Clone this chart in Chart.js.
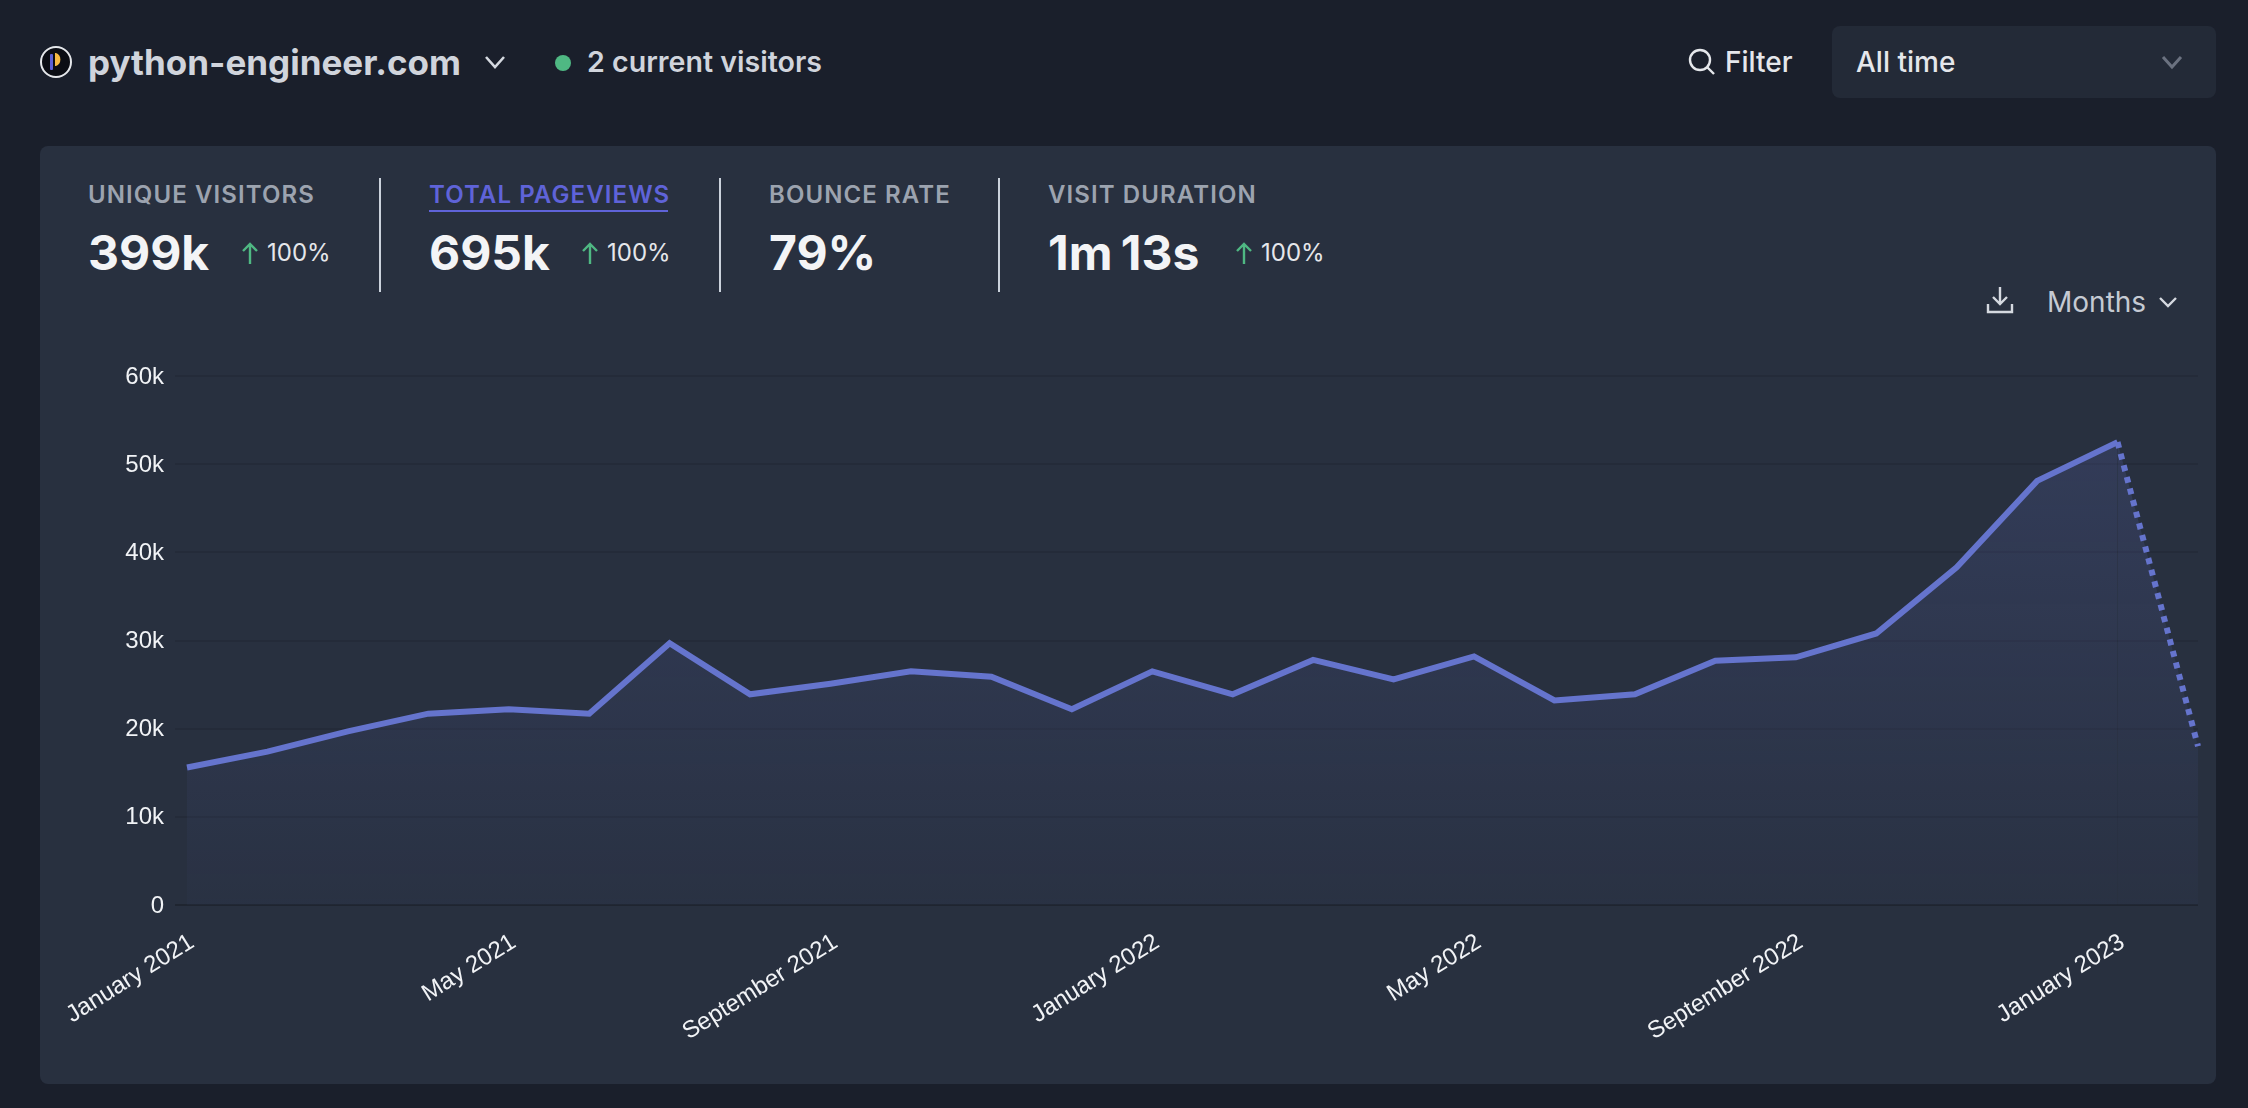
<!DOCTYPE html>
<html>
<head>
<meta charset="utf-8">
<script src="https://cdn.jsdelivr.net/npm/chart.js@4/dist/chart.umd.min.js"></script>
<style>
  html, body { margin: 0; padding: 0; width: 2248px; height: 1108px; overflow: hidden; background: #1a1f2b; font-family: Inter, sans-serif; }
  .abs { position: absolute; white-space: nowrap; line-height: 1; }
  .mid { transform: translateY(-50%); }
  #card { position: absolute; left: 40px; top: 146px; width: 2176px; height: 938px; background: #28303f; border-radius: 8px; }
  #chartWrap { position: absolute; left: 40px; top: 146px; width: 2176px; height: 938px; }
  #range { position: absolute; left: 1832px; top: 26px; width: 384px; height: 72px; background: #232a37; border-radius: 8px; }
  .label { font-size: 24px; font-weight: 600; letter-spacing: 1.1px; color: #9ca3af; top: 195px; }
  .value { font-size: 48px; font-weight: 700; color: #f3f4f6; top: 253px; word-spacing: -3px; }
  .delta { font-size: 24px; color: #e5e7eb; top: 253px; }
  .divider { position: absolute; top: 178px; width: 2px; height: 114px; background: #cbd2dc; }
  svg { position: absolute; overflow: visible; }
</style>
</head>
<body>
<div id="card"></div>
<div id="range"></div>

<svg style="left:40px;top:46px" width="32" height="32" viewBox="0 0 32 32">
  <circle cx="16" cy="16" r="15" fill="#0b0d14" stroke="#e5e7eb" stroke-width="2"/>
  <rect x="10" y="8" width="3" height="16" rx="1" fill="#5a5fd6"/>
  <path d="M15 7h1a7 7 0 0 1 0 13h-1z" fill="#f5b942"/>
</svg>
<div class="abs mid" style="left:88px;top:62px;font-size:35px;font-weight:700;color:#d0d4dc">python-engineer.com</div>
<svg style="left:485px;top:55px" width="20" height="14" viewBox="0 0 20 14"><path d="M1 2l9 10 9-10" fill="none" stroke="#d5d9e0" stroke-width="2.6"/></svg>
<svg style="left:555px;top:55px" width="16" height="16"><circle cx="8" cy="8" r="8" fill="#4fb883"/></svg>
<div class="abs mid" style="left:587px;top:62px;font-size:28.6px;font-weight:600;color:#d0d4dc">2 current visitors</div>

<svg style="left:1688px;top:48px" width="28" height="28" viewBox="0 0 28 28"><circle cx="12" cy="12" r="10" fill="none" stroke="#e5e7eb" stroke-width="2.4"/><path d="M19 19l7 7" stroke="#e5e7eb" stroke-width="2.4"/></svg>
<div class="abs mid" style="left:1725px;top:62px;font-size:28px;font-weight:500;color:#e5e7eb">Filter</div>
<div class="abs mid" style="left:1856px;top:62px;font-size:28px;font-weight:500;color:#e5e7eb">All time</div>
<svg style="left:2162px;top:55px" width="20" height="14" viewBox="0 0 20 14"><path d="M1 2l9 10 9-10" fill="none" stroke="#6b7280" stroke-width="3"/></svg>

<div class="abs mid label" style="left:88px">UNIQUE VISITORS</div>
<div class="abs mid value" style="left:88px">399k</div>
<svg style="left:242px;top:242px" width="16" height="22" viewBox="0 0 16 22"><path d="M8 22V2M1 9l7-7 7 7" fill="none" stroke="#4fb883" stroke-width="2.4"/></svg>
<div class="abs mid delta" style="left:267px">100%</div>
<div class="divider" style="left:379px"></div>

<div class="abs mid label" style="left:429px;color:#5f63d8">TOTAL PAGEVIEWS</div>
<div class="abs" style="left:429px;top:210px;width:239px;height:2px;background:#5f63d8"></div>
<div class="abs mid value" style="left:429px">695k</div>
<svg style="left:582px;top:242px" width="16" height="22" viewBox="0 0 16 22"><path d="M8 22V2M1 9l7-7 7 7" fill="none" stroke="#4fb883" stroke-width="2.4"/></svg>
<div class="abs mid delta" style="left:607px">100%</div>
<div class="divider" style="left:719px"></div>

<div class="abs mid label" style="left:769px">BOUNCE RATE</div>
<div class="abs mid value" style="left:769px">79%</div>
<div class="divider" style="left:998px"></div>

<div class="abs mid label" style="left:1048px">VISIT DURATION</div>
<div class="abs mid value" style="left:1048px">1m 13s</div>
<svg style="left:1236px;top:242px" width="16" height="22" viewBox="0 0 16 22"><path d="M8 22V2M1 9l7-7 7 7" fill="none" stroke="#4fb883" stroke-width="2.4"/></svg>
<div class="abs mid delta" style="left:1261px">100%</div>

<svg style="left:1986px;top:286px" width="28" height="28" viewBox="0 0 28 28"><path d="M14 1v17M7 11l7 7 7-7M2 18v8h24v-8" fill="none" stroke="#d5d9e0" stroke-width="2.4"/></svg>
<div class="abs mid" style="left:2047px;top:302px;font-size:28px;color:#c5cad3">Months</div>
<svg style="left:2159px;top:296px" width="18" height="12" viewBox="0 0 18 12"><path d="M1 2l8 8 8-8" fill="none" stroke="#d5d9e0" stroke-width="2.4"/></svg>

<div id="chartWrap"><canvas id="chart"></canvas></div>

<script>
const months = [
  'January 2021', 'February 2021', 'March 2021', 'April 2021', 'May 2021', 'June 2021',
  'July 2021', 'August 2021', 'September 2021', 'October 2021', 'November 2021', 'December 2021',
  'January 2022', 'February 2022', 'March 2022', 'April 2022', 'May 2022', 'June 2022',
  'July 2022', 'August 2022', 'September 2022', 'October 2022', 'November 2022', 'December 2022',
  'January 2023', 'February 2023'
];
const pageviews = [
  15600, 17400, 19700, 21700, 22200, 21700, 29700, 23900, 25100, 26500, 25900, 22200, 26500,
  23900, 27800, 25600, 28200, 23200, 23900, 27700, 28100, 30800, 38300, 48100, 52500, 18000
];
const yTicks = [0, 10000, 20000, 30000, 40000, 50000, 60000];
const xLabelEvery = 4;

const tickFont = { family: '"Liberation Sans"', size: 24 };
const tickColor = '#f1f3f6';

new Chart(document.getElementById('chart'), {
  type: 'line',
  data: {
    labels: months,
    datasets: [{
      data: pageviews,
      borderColor: '#6574cd',
      borderWidth: 6,
      pointRadius: 0,
      tension: 0,
      fill: true,
      clip: false,
      backgroundColor: (ctx) => {
        const area = ctx.chart.chartArea;
        if (!area) return 'transparent';
        const g = ctx.chart.ctx.createLinearGradient(0, area.top, 0, area.bottom);
        g.addColorStop(0, 'rgba(101,116,205,0.2)');
        g.addColorStop(1, 'rgba(101,116,205,0.03)');
        return g;
      },
      segment: {
        borderDash: (ctx) => ctx.p1DataIndex === months.length - 1 ? [6, 6] : undefined,
      },
    }],
  },
  options: {
    responsive: true,
    maintainAspectRatio: false,
    animation: false,
    layout: { padding: { top: 230, right: 18, bottom: 0, left: 0 } },
    plugins: { legend: { display: false }, tooltip: { enabled: false } },
    scales: {
      x: {
        // rotated labels and tick padding would otherwise push the plot in from the right
        afterFit: (axis) => { axis.height = 179; axis.paddingRight = 0; axis.paddingLeft = 0; },
        grid: { display: false },
        border: { display: false },
        ticks: {
          autoSkip: false,
          minRotation: 32,
          maxRotation: 32,
          padding: 15,
          labelOffset: 5,
          color: tickColor,
          font: tickFont,
          callback(value, i) { return i % xLabelEvery === 0 ? months[i] : ''; },
        },
      },
      y: {
        min: 0,
        max: yTicks[yTicks.length - 1],
        afterFit: (axis) => { axis.width = 147; },
        afterBuildTicks: (axis) => { axis.ticks = yTicks.map(v => ({ value: v })); },
        border: { display: false },
        grid: {
          tickLength: 12,
          lineWidth: 2,
          color: (ctx) => ctx.tick && ctx.tick.value === 0 ? 'rgba(20,24,32,0.45)' : 'rgba(20,24,32,0.18)',
        },
        ticks: {
          padding: 11,
          labelOffset: 1,
          color: tickColor,
          font: tickFont,
          callback: (v) => v === 0 ? '0' : (v / 1000) + 'k',
        },
      },
    },
  },
});
</script>
</body>
</html>
